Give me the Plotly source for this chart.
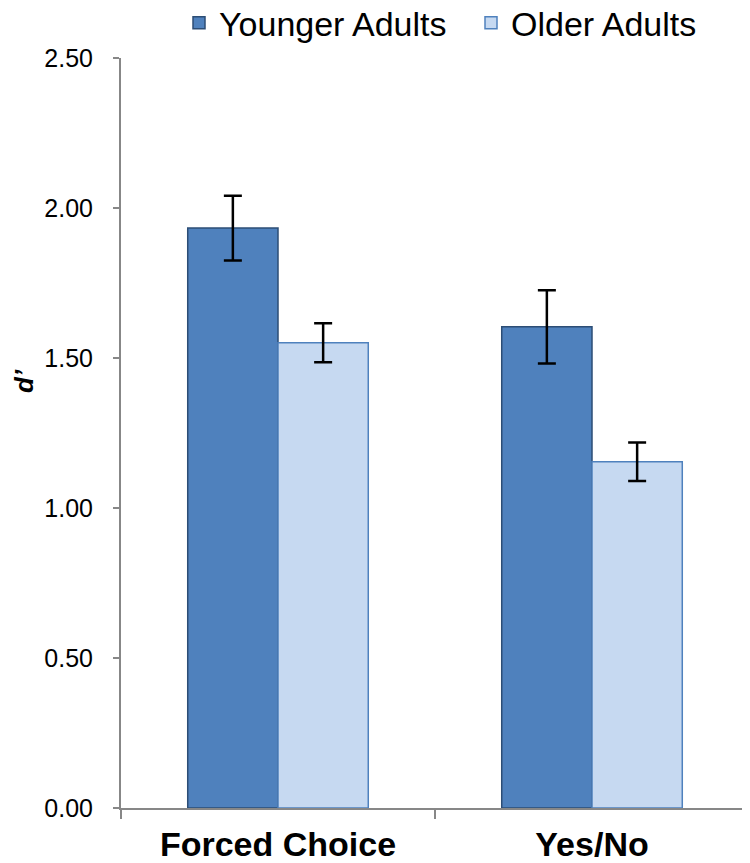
import plotly.graph_objects as go

categories = ["Forced Choice", "Yes/No"]
younger = [1.933, 1.604]
younger_err = [0.108, 0.122]
older = [1.551, 1.154]
older_err = [0.065, 0.064]
y_ticks = [0.0, 0.5, 1.0, 1.5, 2.0, 2.5]
y_ticklabels = ["0.00", "0.50", "1.00", "1.50", "2.00", "2.50"]

FONT = "Liberation Sans, Arial, Helvetica, sans-serif"

fig = go.Figure()
fig.add_trace(go.Bar(
    name="Younger Adults", x=categories, y=younger, legend="legend",
    marker=dict(color="#4F81BD", line=dict(color="#2C4D75", width=1.5)),
    error_y=dict(type="data", array=younger_err, color="black", thickness=2.5, width=9),
))
fig.add_trace(go.Bar(
    name="Older Adults", x=categories, y=older, legend="legend2",
    marker=dict(color="#C6D9F1", line=dict(color="#4F81BD", width=1.5)),
    error_y=dict(type="data", array=older_err, color="black", thickness=2.5, width=9),
))

legend_common = dict(
    orientation="h", xanchor="left", yanchor="top", y=1.085,
    font=dict(size=34, family=FONT), bgcolor="rgba(0,0,0,0)",
)

fig.update_layout(
    width=750, height=863,
    margin=dict(l=113, r=9, t=50, b=63, autoexpand=False),
    paper_bgcolor="white", plot_bgcolor="white",
    barmode="group", bargap=0.425, bargroupgap=0,
    font=dict(family=FONT, color="black"),
    showlegend=True,
    legend=dict(x=(179 - 121) / 628, **legend_common),
    legend2=dict(x=(471 - 121) / 628, **legend_common),
    xaxis=dict(
        type="category", range=[-0.5, 1.5],
        showline=True, linecolor="#878787", linewidth=2,
        ticks="outside", tickson="boundaries", ticklen=9, tickwidth=2, tickcolor="#878787",
        tickfont=dict(size=34, family=FONT, weight="bold"),
        ticklabelstandoff=5,
        showgrid=False, zeroline=False,
    ),
    yaxis=dict(
        range=[0, 2.5], tickvals=y_ticks, ticktext=y_ticklabels,
        showline=True, linecolor="#878787", linewidth=2,
        ticks="outside", ticklen=6, tickwidth=2, tickcolor="#878787",
        tickfont=dict(size=25, family=FONT),
        ticklabelstandoff=15,
        showgrid=False, zeroline=False,
    ),
    annotations=[dict(
        text="<b><i>d’</i></b>", textangle=-90,
        xref="paper", yref="paper",
        x=(24 - 121) / 628, y=(808 - 381) / 750,
        xanchor="center", yanchor="middle", showarrow=False,
        borderpad=0,
        font=dict(size=26, family=FONT),
    )],
)

fig.write_html("out.html")
